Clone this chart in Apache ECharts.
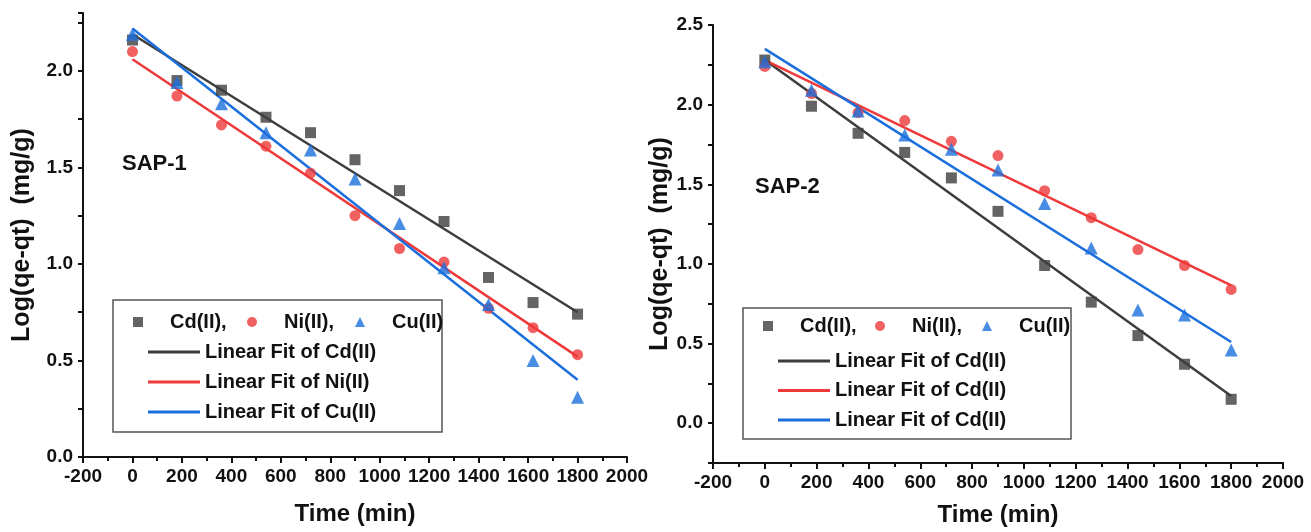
<!DOCTYPE html>
<html><head><meta charset="utf-8">
<script src="https://cdn.jsdelivr.net/npm/echarts@6/dist/echarts.min.js"></script>
<style>html,body{margin:0;padding:0;background:#fff}#c{width:1311px;height:532px}</style>
</head><body><div id="c"></div>
<script>
// ---- data ----
const times = [0, 180, 360, 540, 720, 900, 1080, 1260, 1440, 1620, 1800];
const sap1Cd = [2.16, 1.95, 1.90, 1.76, 1.68, 1.54, 1.38, 1.22, 0.93, 0.80, 0.74];
const sap1Ni = [2.10, 1.87, 1.72, 1.61, 1.47, 1.25, 1.08, 1.01, 0.77, 0.67, 0.53];
const sap1Cu = [2.19, 1.94, 1.83, 1.68, 1.59, 1.44, 1.21, 0.98, 0.79, 0.50, 0.31];
const sap2Cd = [2.28, 1.99, 1.82, 1.70, 1.54, 1.33, 0.99, 0.76, 0.55, 0.37, 0.15];
const sap2Ni = [2.24, 2.07, 1.95, 1.90, 1.77, 1.68, 1.46, 1.29, 1.09, 0.99, 0.84];
const sap2Cu = [2.27, 2.09, 1.96, 1.81, 1.72, 1.59, 1.38, 1.10, 0.71, 0.68, 0.46];
const fitTimes = [0, 1800];
const sap1FitCd = [2.19, 0.75];
const sap1FitNi = [2.06, 0.52];
const sap1FitCu = [2.22, 0.40];
const sap2FitCd = [2.28, 0.17];
const sap2FitNi = [2.28, 0.865];
const sap2FitCu = [2.35, 0.51];
const scatterLabels = ['Cd(II),', 'Ni(II),', 'Cu(II)'];
const fitLabels1 = ['Linear Fit of Cd(II)', 'Linear Fit of Ni(II)', 'Linear Fit of Cu(II)'];
const fitLabels2 = ['Linear Fit of Cd(II)', 'Linear Fit of Cd(II)', 'Linear Fit of Cd(II)'];
const panelTitles = ['SAP-1', 'SAP-2'];
const xTitle = 'Time (min)';
const yTitle = 'Log(qe-qt)  (mg/g)';

// ---- styling ----
const FONT = '"Liberation Sans", Arial, sans-serif';
const colors = ['#3d3d3d', '#ee3a3a', '#1b6fdc'];
const symbols = ['rect', 'circle', 'triangle'];
const symSizes = [11, 11, 13];
const legendIcons = ['rect', 'circle', 'triangle'];
const lineIcon = 'path://M0,0H52V3H0Z';

const pair = (xs, ys) => xs.map((x, i) => [x, ys[i]]);

const labelMap = {};
['p1', 'p2'].forEach((p, k) => {
  ['s0', 's1', 's2'].forEach((s, i) => labelMap[p + s] = scatterLabels[i]);
  ['f0', 'f1', 'f2'].forEach((f, i) => labelMap[p + f] = (k === 0 ? fitLabels1 : fitLabels2)[i]);
});

function xAxis(gi, nameGap) {
  return {
    type: 'value', gridIndex: gi, min: -200, max: 2000, interval: 200,
    name: xTitle, nameLocation: 'middle', nameGap: nameGap,
    nameTextStyle: { fontFamily: FONT, fontWeight: 'bold', fontSize: 24, color: '#111' },
    axisLine: { onZero: false, lineStyle: { color: '#111', width: 2 } },
    axisTick: { length: 6, lineStyle: { color: '#111', width: 2 } },
    minorTick: { show: true, splitNumber: 2, length: 4, lineStyle: { color: '#111', width: 2 } },
    splitLine: { show: false },
    axisLabel: { fontFamily: FONT, fontWeight: 'bold', fontSize: 19, color: '#111', margin: 10,
      formatter: v => String(v) }
  };
}
function yAxis(gi, min, max, nameGap) {
  return {
    type: 'value', gridIndex: gi, min: min, max: max, interval: 0.25,
    name: yTitle, nameLocation: 'middle', nameGap: nameGap, nameRotate: 90,
    nameTextStyle: { fontFamily: FONT, fontWeight: 'bold', fontSize: 25, color: '#111' },
    axisLine: { onZero: false, lineStyle: { color: '#111', width: 2 } },
    axisTick: { length: 5, lineStyle: { color: '#111', width: 2 } },
    splitLine: { show: false },
    axisLabel: {
      fontFamily: FONT, fontWeight: 'bold', fontSize: 19, color: '#111', margin: 10,
      formatter: v => (Math.abs(v * 2 - Math.round(v * 2)) < 1e-6) ? v.toFixed(1) : ''
    }
  };
}

const series = [];
function addPanel(p, gi, sc, fits) {
  sc.forEach((ys, i) => series.push({
    name: p + 's' + i, type: 'scatter', xAxisIndex: gi, yAxisIndex: gi,
    data: pair(times, ys), symbol: symbols[i], symbolSize: symSizes[i],
    itemStyle: { color: colors[i] }, z: 3
  }));
  fits.forEach((ys, i) => series.push({
    name: p + 'f' + i, type: 'line', xAxisIndex: gi, yAxisIndex: gi,
    data: pair(fitTimes, ys), symbol: 'none', showSymbol: false,
    lineStyle: { color: colors[i], width: 2.5 }, itemStyle: { color: colors[i] }, z: 2
  }));
}
addPanel('p1', 0, [sap1Cd, sap1Ni, sap1Cu], [sap1FitCd, sap1FitNi, sap1FitCu]);
addPanel('p2', 1, [sap2Cd, sap2Ni, sap2Cu], [sap2FitCd, sap2FitNi, sap2FitCu]);

const legText = { fontFamily: FONT, fontWeight: 'bold', fontSize: 20, color: '#111' };
const legends = [];
function rowLegends(p, centers, top) {
  centers.forEach((c, i) => legends.push({
    data: [{ name: p + 's' + i, icon: legendIcons[i] }], left: c - 5, top: top, padding: 0,
    itemWidth: 10, itemHeight: 10,
    textStyle: Object.assign({ padding: [0, 0, 0, 22] }, legText),
    formatter: n => labelMap[n], selectedMode: false
  }));
}
function fitLegend(p, left, top, gap) {
  legends.push({
    data: ['f0', 'f1', 'f2'].map(f => ({ name: p + f, icon: lineIcon })),
    orient: 'vertical', left: left, top: top, padding: 0,
    itemWidth: 52, itemHeight: 3, itemGap: gap, textStyle: legText,
    formatter: n => labelMap[n], selectedMode: false
  });
}
rowLegends('p1', [138, 252, 360], 312);
fitLegend('p1', 148, 342, 10);
rowLegends('p2', [768, 880, 987], 316);
fitLegend('p2', 778, 351, 9.5);

const chart = echarts.init(document.getElementById('c'), null, { renderer: 'canvas' });
chart.setOption({
  backgroundColor: '#fff',
  animation: false,
  grid: [
    { left: 83, top: 13, width: 544, height: 444 },
    { left: 713, top: 25, width: 570, height: 440 }
  ],
  xAxis: [xAxis(0, 45), xAxis(1, 40)],
  yAxis: [yAxis(0, 0, 2.3, 48), yAxis(1, -0.25, 2.5, 39)],
  legend: legends,
  series: series,
  graphic: [
    { type: 'rect', shape: { x: 113, y: 300, width: 329, height: 132 }, style: { fill: 'none', stroke: '#555', lineWidth: 1.5 }, z: 1 },
    { type: 'rect', shape: { x: 743, y: 308, width: 328, height: 131 }, style: { fill: 'none', stroke: '#555', lineWidth: 1.5 }, z: 1 },
    { type: 'text', left: 122, top: 153, style: { text: panelTitles[0], font: 'bold 22px ' + FONT, fill: '#111' } },
    { type: 'text', left: 755, top: 176, style: { text: panelTitles[1], font: 'bold 22px ' + FONT, fill: '#111' } }
  ]
});
</script>
</body></html>
